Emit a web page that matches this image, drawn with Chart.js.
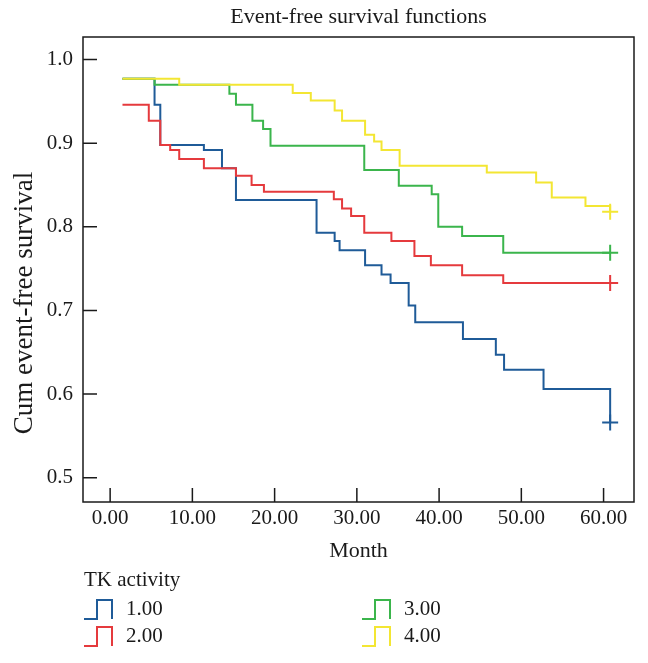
<!DOCTYPE html>
<html>
<head>
<meta charset="utf-8">
<script src="https://cdn.jsdelivr.net/npm/chart.js@4.4.1/dist/chart.umd.min.js"></script>
<style>
  html, body { margin: 0; padding: 0; background: #fff; }
</style>
</head>
<body>
<canvas id="kmChart" width="648" height="663"></canvas>
<script>
// Kaplan-Meier steps: month of each step and survival after it (last point = censored)
const groupLabels = ["1.00", "2.00", "3.00", "4.00"];
const groupColors = ["#1f5b98", "#e53a3d", "#3bb54c", "#f3e633"];

const monthsG1 = [1.5, 5.4, 6.1, 11.4, 13.6, 15.3, 25.1, 27.3, 27.9, 31.0, 33.0, 34.1, 36.3, 37.1, 42.9, 46.9, 47.9, 52.7, 60.8];
const survG1   = [0.977, 0.946, 0.898, 0.892, 0.870, 0.832, 0.793, 0.783, 0.772, 0.754, 0.743, 0.733, 0.706, 0.686, 0.666, 0.647, 0.629, 0.606, 0.566];

const monthsG2 = [1.5, 4.7, 6.1, 7.3, 8.4, 11.4, 15.3, 17.2, 18.7, 27.2, 28.2, 29.3, 30.9, 34.2, 37.0, 39.0, 42.8, 47.8, 60.8];
const survG2   = [0.946, 0.927, 0.898, 0.892, 0.881, 0.870, 0.861, 0.850, 0.842, 0.833, 0.822, 0.813, 0.793, 0.783, 0.765, 0.754, 0.742, 0.733, 0.733];

const monthsG3 = [1.5, 5.4, 14.5, 15.3, 17.3, 18.6, 19.5, 30.9, 35.1, 39.1, 39.9, 42.8, 47.8, 60.8];
const survG3   = [0.977, 0.970, 0.959, 0.946, 0.927, 0.917, 0.897, 0.868, 0.849, 0.839, 0.800, 0.789, 0.769, 0.769];

const monthsG4 = [1.5, 8.4, 22.2, 24.4, 27.3, 28.2, 31.0, 32.1, 33.0, 35.2, 45.8, 51.8, 53.7, 57.8, 60.8];
const survG4   = [0.977, 0.970, 0.960, 0.951, 0.939, 0.927, 0.910, 0.902, 0.892, 0.873, 0.865, 0.853, 0.835, 0.825, 0.818];

const monthTicks = [0, 10, 20, 30, 40, 50, 60];
const survTicks = [0.5, 0.6, 0.7, 0.8, 0.9, 1.0];

const FONT = "'Liberation Serif', 'Times New Roman', serif";
const INK = "#1a1a1a";

function toPoints(months, surv) {
    const pts = [];
    for (let i = 0; i < months.length; i++) {
        pts.push({ x: months[i], y: surv[i] });
    }
    return pts;
}

const allMonths = [monthsG1, monthsG2, monthsG3, monthsG4];
const allSurv = [survG1, survG2, survG3, survG4];

const datasets = [];
for (let g = 0; g < groupLabels.length; g++) {
    const last = allMonths[g].length - 1;
    datasets.push({
        label: groupLabels[g],
        data: toPoints(allMonths[g], allSurv[g]),
        borderColor: groupColors[g],
        borderWidth: 2,
        stepped: 'before',   // hold the old value, then drop
        fill: false,
        order: groupLabels.length - g,
        pointStyle: 'cross',
        pointRadius: (ctx) => ctx.dataIndex === last ? 8 : 0,
        pointHoverRadius: 0,
        pointBorderColor: groupColors[g],
        pointBorderWidth: 2
    });
}

// frame, inward ticks, titles and the step-shaped legend
const decorations = {
    id: 'decorations',
    afterDraw(chart) {
        const ctx = chart.ctx;
        const area = chart.chartArea;
        const xs = chart.scales.x;
        const ys = chart.scales.y;
        ctx.save();
        ctx.strokeStyle = INK;
        ctx.lineWidth = 1.5;
        ctx.strokeRect(area.left, area.top, area.right - area.left, area.bottom - area.top);
        ctx.beginPath();
        monthTicks.forEach(v => {
            const px = xs.getPixelForValue(v);
            ctx.moveTo(px, area.bottom);
            ctx.lineTo(px, area.bottom - 14);
        });
        survTicks.forEach(v => {
            const py = ys.getPixelForValue(v);
            ctx.moveTo(area.left, py);
            ctx.lineTo(area.left + 14, py);
        });
        ctx.stroke();

        ctx.fillStyle = INK;
        ctx.textBaseline = 'middle';
        ctx.textAlign = 'center';
        ctx.font = "22px " + FONT;
        ctx.fillText("Event-free survival functions", (area.left + area.right) / 2, 17);

        ctx.save();
        ctx.translate(25, 303);
        ctx.rotate(-Math.PI / 2);
        ctx.font = "27px " + FONT;
        ctx.fillText("Cum event-free survival", 0, 0);
        ctx.restore();

        ctx.font = "21px " + FONT;
        ctx.textAlign = 'left';
        ctx.fillText("TK activity", 84, 580);
        const cols = [84, 362];
        const rows = [609, 636];
        for (let g = 0; g < groupLabels.length; g++) {
            const x0 = cols[Math.floor(g / 2)];
            const y0 = rows[g % 2];
            ctx.strokeStyle = groupColors[g];
            ctx.lineWidth = 2;
            ctx.beginPath();
            ctx.moveTo(x0, y0 + 10);
            ctx.lineTo(x0 + 13, y0 + 10);
            ctx.lineTo(x0 + 13, y0 - 9);
            ctx.lineTo(x0 + 28, y0 - 9);
            ctx.lineTo(x0 + 28, y0 + 10);
            ctx.stroke();
            ctx.fillText(groupLabels[g], x0 + 42, y0);
        }
        ctx.restore();
    }
};

const ctx = document.getElementById('kmChart').getContext('2d');
const kmChart = new Chart(ctx, {
    type: 'line',
    data: { datasets: datasets },
    options: {
        responsive: false,
        animation: false,
        layout: { padding: { top: 37, right: 14, bottom: 95, left: 0 } },
        plugins: {
            legend: { display: false },
            tooltip: { enabled: false }
        },
        scales: {
            x: {
                type: 'linear',
                min: -3.3,
                max: 63.7,
                afterBuildTicks: (scale) => { scale.ticks = monthTicks.map(v => ({ value: v })); },
                afterFit: (scale) => { scale.height = 66; },
                grid: { display: false, drawTicks: false },
                border: { display: false },
                ticks: {
                    padding: 4,
                    color: INK,
                    font: { family: FONT, size: 21 },
                    maxRotation: 0,
                    callback: (v) => Number(v).toFixed(2)
                },
                title: {
                    display: true,
                    text: 'Month',
                    color: INK,
                    font: { family: FONT, size: 22 },
                    padding: { top: 0, bottom: 4 }
                }
            },
            y: {
                type: 'linear',
                min: 0.471,
                max: 1.027,
                afterBuildTicks: (scale) => { scale.ticks = survTicks.map(v => ({ value: v })); },
                afterFit: (scale) => { scale.width = 83; },
                grid: { display: false, drawTicks: false },
                border: { display: false },
                ticks: {
                    padding: 10,
                    color: INK,
                    font: { family: FONT, size: 21 },
                    callback: (v) => Number(v).toFixed(1)
                }
            }
        }
    },
    plugins: [decorations]
});
</script>
</body>
</html>
